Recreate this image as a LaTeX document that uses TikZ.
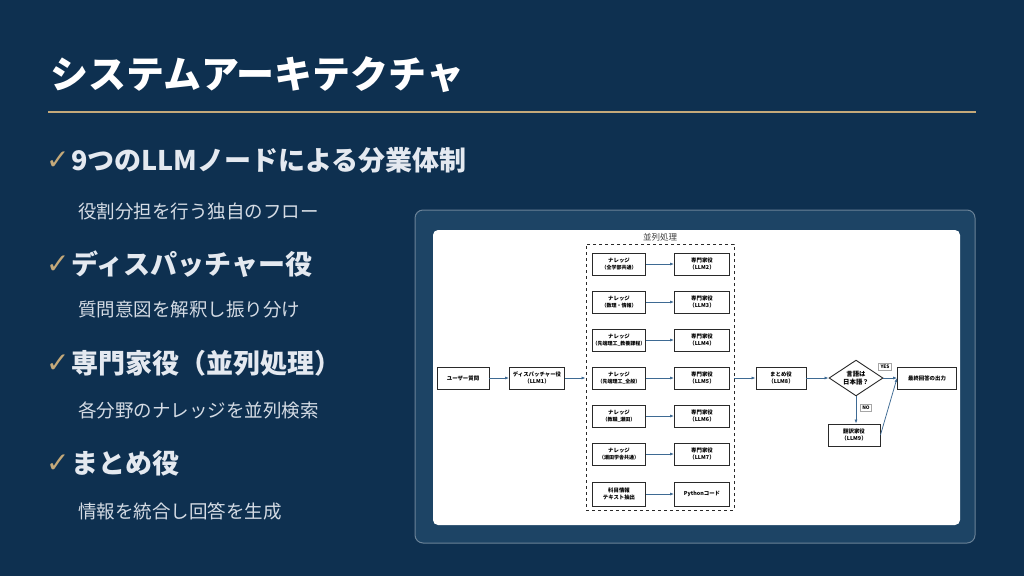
\documentclass[tikz,border=0pt]{standalone}
\usepackage{fontspec}
\setmainfont{Noto Sans CJK JP}
\newfontfamily\symfont{DejaVu Sans}
\usetikzlibrary{positioning,arrows.meta,shapes.geometric}
\definecolor{bgnavy}{HTML}{0E3050}
\definecolor{panel}{HTML}{1D4465}
\definecolor{panelrim}{HTML}{6A8297}
\definecolor{gold}{HTML}{C4A97A}
\definecolor{headtxt}{HTML}{E4E9F0}
\definecolor{subtxt}{HTML}{D5DCE5}
\definecolor{boxline}{HTML}{2A2A2A}
\definecolor{flowblue}{HTML}{3E6A93}
\tikzset{
  every node/.style={inner sep=0pt},
  ttl/.style={anchor=west, text=white, font=\bfseries\fontsize{38}{40}\selectfont},
  chk/.style={anchor=west, text=gold, font=\symfont\fontsize{28}{30}\selectfont},
  head/.style={anchor=west, text=headtxt, font=\bfseries\fontsize{27}{29}\selectfont},
  sub/.style={anchor=west, text=subtxt, font=\fontsize{18.5}{20}\selectfont},
  fbox/.style={draw=boxline, line width=0.9pt, fill=white, align=center,
               minimum width=#1, minimum height=22pt,
               font=\bfseries\fontsize{5.4}{6.6}\selectfont},
  fbox/.default=53pt,
  tiny/.style={font=\fontsize{3.7}{4.5}\selectfont},
  tag/.style={draw=gray!70, line width=0.5pt, fill=white, inner xsep=2pt, inner ysep=1.5pt,
              font=\bfseries\fontsize{4.8}{5.5}\selectfont},
  arr/.style={-{Latex[length=4pt,width=3pt]}, draw=flowblue, line width=0.75pt},
}
\begin{document}
\begin{tikzpicture}[x=1pt,y=-1pt]
\useasboundingbox (0,0) rectangle (1024,576);
\fill[bgnavy] (0,0) rectangle (1024,576);

% ---------------- title and bullets ----------------
\node[ttl] (title) at (50,75) {システムアーキテクチャ};
\draw[gold, line width=2pt] (48,112) -- (976,112);

\node[chk]  (c1) at (46,161) {✓};
\node[head] (h1) at (71,160) {9つのLLMノードによる分業体制};
\node[sub]  (s1) at (78,211) {役割分担を行う独自のフロー};
\node[chk]  (c2) at (46,265) {✓};
\node[head] (h2) at (71,264) {ディスパッチャー役};
\node[sub]  (s2) at (78,309) {質問意図を解釈し振り分け};
\node[chk]  (c3) at (46,364) {✓};
\node[head] (h3) at (71,363) {専門家役（並列処理）};
\node[sub]  (s3) at (78,410) {各分野のナレッジを並列検索};
\node[chk]  (c4) at (46,464) {✓};
\node[head] (h4) at (71,463) {まとめ役};
\node[sub]  (s4) at (78,511) {情報を統合し回答を生成};

% ---------------- diagram panel ----------------
\draw[panelrim, fill=panel, line width=1pt, rounded corners=8pt] (415,210) rectangle (975,543);
\fill[white, rounded corners=5pt] (433,230) rectangle (960,525);

% ---------------- flow ----------------
\node[fbox=52pt] (user) at (463,378) {ユーザー質問};
\node[fbox=55pt] (disp) at (537,378) {ディスパッチャー役\\（LLM1）};

\node[draw=boxline, dashed, line width=0.9pt, minimum width=148pt, minimum height=266pt]
  (para) at (660,377) {};
\node[font=\fontsize{8.5}{9}\selectfont, text=black!75, above=2pt of para] (paralab) {並列処理};

\node[fbox] (k1) at (619,264) {ナレッジ\\{\tiny（全学部共通）}};
\node[fbox] (k2) at (619,302) {ナレッジ\\{\tiny（数理・情報）}};
\node[fbox] (k3) at (619,340) {ナレッジ\\{\tiny（先端理工\_教養課程）}};
\node[fbox] (k4) at (619,378) {ナレッジ\\{\tiny（先端理工\_全般）}};
\node[fbox] (k5) at (619,416) {ナレッジ\\{\tiny（教職\_瀬田）}};
\node[fbox] (k6) at (619,454) {ナレッジ\\{\tiny（瀬田学舎共通）}};
\node[fbox, minimum height=24pt] (k7) at (619,494) {科目情報\\テキスト抽出};

\node[fbox=55pt] (e1) at (702,264) {専門家役\\（LLM2）};
\node[fbox=55pt] (e2) at (702,302) {専門家役\\（LLM3）};
\node[fbox=55pt] (e3) at (702,340) {専門家役\\（LLM4）};
\node[fbox=55pt] (e4) at (702,378) {専門家役\\（LLM5）};
\node[fbox=55pt] (e5) at (702,416) {専門家役\\（LLM6）};
\node[fbox=55pt] (e6) at (702,454) {専門家役\\（LLM7）};
\node[fbox=55pt, minimum height=24pt] (e7) at (702,494) {Pythonコード};

\node[fbox=50pt] (summ) at (781,378) {まとめ役\\（LLM8）};
\node[draw=boxline, line width=0.9pt, fill=white, diamond, aspect=1.15,
      minimum width=54pt, align=center, font=\bfseries\fontsize{6.4}{7.6}\selectfont]
  (lang) at (856,378) {言語は\\日本語？};
\node[fbox=59pt] (out) at (927,378) {最終回答の出力};
\node[fbox=52pt] (trans) at (854,435) {翻訳家役\\（LLM9）};
\node[tag] (yes) at (885,367) {YES};
\node[tag] (no) at (866,408) {NO};

% ---------------- arrows ----------------
\draw[arr] (user) -- (disp);
\draw[arr] (disp) -- (para.west |- disp);
\foreach \i in {1,...,7}
  \draw[arr] (k\i) -- (e\i);
\draw[arr] (para.east |- summ) -- (summ);
\draw[arr] (summ) -- (lang);
\draw[arr] (lang) -- (out);
\draw[arr] (lang.south) -- (trans.north -| lang.south);
\draw[arr] (trans.east) -- (out.west);

\end{tikzpicture}
\end{document}
